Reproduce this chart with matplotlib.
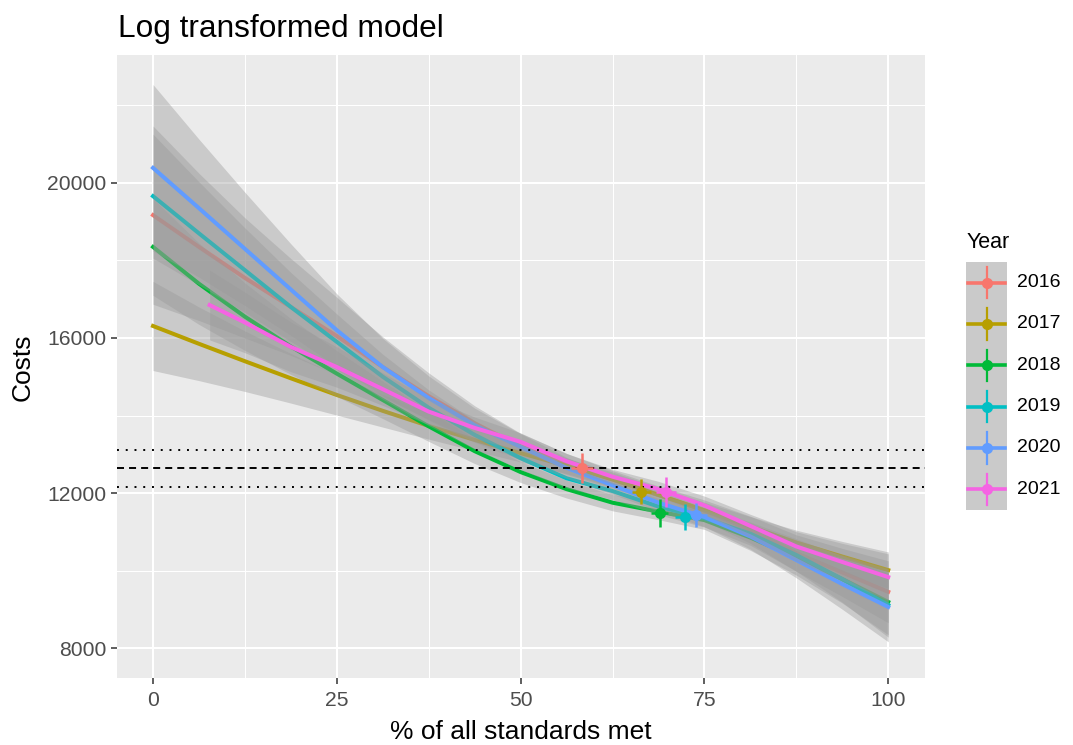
import numpy as np
import matplotlib
matplotlib.use("Agg")
import matplotlib.pyplot as plt

plt.rcParams['font.family'] = ['Liberation Sans', 'DejaVu Sans']

# data
years = ['2016', '2017', '2018', '2019', '2020', '2021']
colors = ['#F8766D', '#B79F00', '#00BA38', '#00BFC4', '#619CFF', '#F564E3']

x_grid = [0, 6.25, 12.5, 18.75, 25, 31.25, 37.5, 43.75, 50,
          56.25, 62.5, 68.75, 75, 81.25, 87.5, 93.75, 100]
x_2021 = [7.7, 12.5, 18.75, 25, 31.25, 37.5, 43.75, 50,
          56.25, 62.5, 68.75, 75, 81.25, 87.5, 93.75, 100]

# smoothed fit per year
fit_2016 = [19170, 18350, 17550, 16800, 16050, 15250, 14500, 13800, 13200,
            12750, 12350, 11950, 11550, 11050, 10450, 9950, 9450]
fit_2017 = [16310, 15850, 15400, 14960, 14530, 14120, 13730, 13370, 13030,
            12700, 12350, 11950, 11550, 11130, 10720, 10360, 10010]
fit_2018 = [18350, 17400, 16550, 15780, 15080, 14400, 13720, 13080, 12540,
            12100, 11750, 11520, 11300, 10850, 10330, 9780, 9190]
fit_2019 = [19660, 18700, 17750, 16800, 15900, 15000, 14200, 13500, 12900,
            12380, 12050, 11650, 11350, 10950, 10400, 9780, 9110]
fit_2020 = [20390, 19350, 18300, 17250, 16200, 15250, 14450, 13750, 13190,
            12650, 12200, 11750, 11380, 10880, 10270, 9650, 9060]
fit_2021 = [16850, 16400, 15770, 15250, 14680, 14100, 13680, 13320,
            12820, 12420, 12100, 11680, 11150, 10620, 10220, 9830]

# half width of the confidence band
se_2016 = [2300, 1900, 1550, 1250, 1000, 780, 600, 450, 340,
           270, 230, 230, 270, 350, 470, 620, 800]
se_2017 = [1150, 950, 780, 640, 520, 420, 340, 280, 230,
           200, 190, 190, 210, 260, 320, 390, 470]
se_2018 = [1250, 1050, 870, 720, 590, 480, 390, 320, 270,
           230, 210, 210, 240, 330, 450, 620, 850]
se_2019 = [1600, 1330, 1090, 890, 720, 580, 460, 370, 300,
           250, 220, 210, 230, 300, 420, 600, 830]
se_2020 = [2150, 1780, 1460, 1180, 940, 740, 570, 440, 340,
           270, 230, 220, 250, 330, 460, 650, 900]
se_2021 = [900, 780, 640, 520, 420, 340, 280, 230,
           200, 190, 200, 240, 300, 380, 480, 600]

# yearly means with error bars
mean_x = [58.4, 66.4, 68.9, 72.3, 73.9, 69.8]
mean_y = [12650, 12030, 11480, 11380, 11430, 12030]
err_x = [1.5, 1.3, 1.2, 1.3, 1.4, 1.4]
err_y = [380, 320, 360, 330, 300, 380]

ref_mean = 12640
ref_low = 12150
ref_high = 13120

fits = [fit_2016, fit_2017, fit_2018, fit_2019, fit_2020, fit_2021]
ses = [se_2016, se_2017, se_2018, se_2019, se_2020, se_2021]
xs = [x_grid] * 5 + [x_2021]

W, H = 1073, 745
fig = plt.figure(figsize=(W / 100, H / 100), dpi=100)
ax = fig.add_axes([117 / W, 1 - 678 / H, 808 / W, 623 / H])
ax.set_facecolor('#EBEBEB')

# ribbon then line, year by year (later ribbons grey out earlier lines)
for x, y, s, c in zip(xs, fits, ses, colors):
    x = np.array(x)
    y = np.array(y)
    s = np.array(s)
    ax.fill_between(x, y - s, y + s, color='#999999', alpha=0.4, lw=0, zorder=2)
    ax.plot(x, y, color=c, lw=2.9, zorder=2, solid_joinstyle='round')

ax.axhline(ref_mean, color='black', lw=1.4, ls=(0, (3.6, 2.6)), zorder=3)
ax.axhline(ref_low, color='black', lw=1.4, ls=(0, (1, 3.5)), zorder=3)
ax.axhline(ref_high, color='black', lw=1.4, ls=(0, (1, 3.5)), zorder=3)

for i in range(len(years)):
    ax.errorbar(mean_x[i], mean_y[i], xerr=err_x[i], yerr=err_y[i], fmt='o',
                color=colors[i], ms=7, elinewidth=1.8, capsize=0, zorder=4)

ax.set_xlim(-4.9, 105)
ax.set_ylim(7226, 23303)
ax.set_xticks([0, 25, 50, 75, 100])
ax.set_xticks([12.5, 37.5, 62.5, 87.5], minor=True)
ax.set_yticks([8000, 12000, 16000, 20000])
ax.set_yticks([10000, 14000, 18000, 22000], minor=True)
ax.grid(which='major', color='white', lw=1.5)
ax.grid(which='minor', color='white', lw=0.75)
ax.set_axisbelow(True)
for sp in ax.spines.values():
    sp.set_visible(False)
ax.tick_params(which='major', length=4.5, width=1.1, color='#333333',
               labelsize=15.2, labelcolor='#4D4D4D', pad=3)
ax.tick_params(axis='x', which='major', pad=5)
ax.tick_params(which='minor', length=0)

fig.text(118 / W, 1 - 37 / H, 'Log transformed model', fontsize=22.8,
         va='baseline', ha='left', color='black')
fig.text(521 / W, 1 - 739 / H, '% of all standards met', fontsize=19,
         va='baseline', ha='center')
fig.text(23 / W, 1 - 367 / H, 'Costs', fontsize=19, rotation=90,
         va='center', ha='center')

# legend
lg = fig.add_axes([966 / W, 1 - 510 / H, 41 / W, 248 / H])
lg.set_facecolor('#CACACA')
lg.set_xlim(0, 1)
lg.set_ylim(len(years), 0)
lg.set_xticks([])
lg.set_yticks([])
for sp in lg.spines.values():
    sp.set_visible(False)
for i, (yr, c) in enumerate(zip(years, colors)):
    lg.plot([0.05, 0.95], [i + 0.5, i + 0.5], color=c, lw=2.6)
    lg.plot([0.5, 0.5], [i + 0.12, i + 0.88], color=c, lw=1.6)
    lg.plot(0.5, i + 0.5, 'o', color=c, ms=7)
    fig.text(1017 / W, 1 - (262 + 41.3 * (i + 0.5)) / H, yr, fontsize=14,
             va='center', ha='left')
fig.text(967 / W, 1 - 248 / H, 'Year', fontsize=15.5, va='baseline', ha='left')

fig.savefig('out.png', dpi=100)
